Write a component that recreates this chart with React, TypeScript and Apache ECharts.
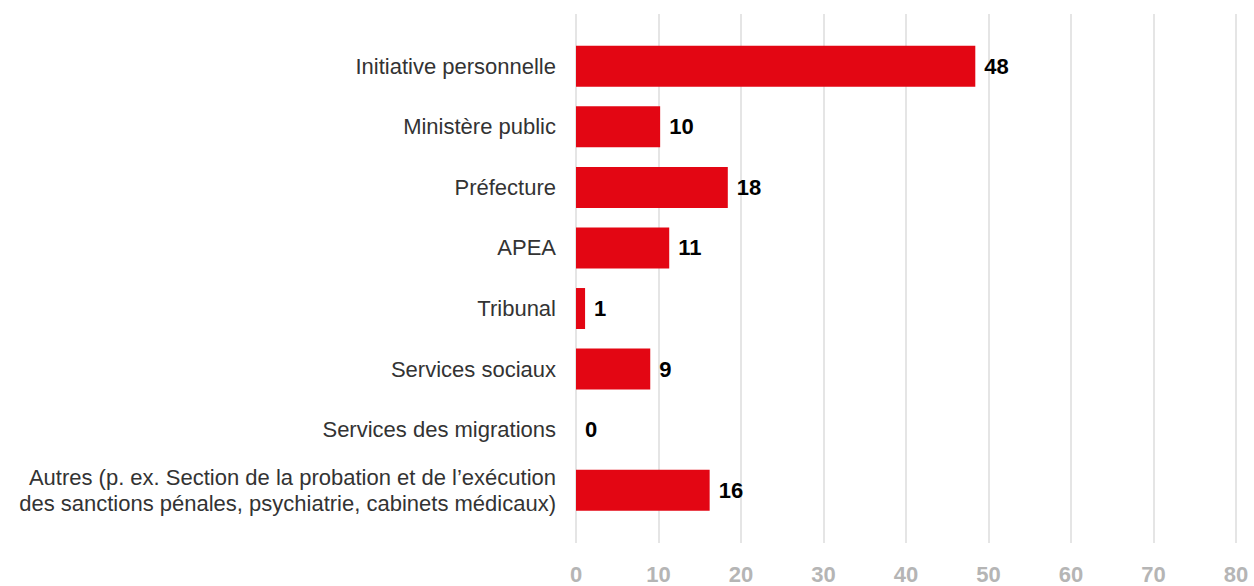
import React, { useEffect, useRef } from "react";
import * as echarts from "echarts";

const categories = [
  "Initiative personnelle",
  "Ministère public",
  "Préfecture",
  "APEA",
  "Tribunal",
  "Services sociaux",
  "Services des migrations",
  "Autres (p. ex. Section de la probation et de l’exécution\ndes sanctions pénales, psychiatrie, cabinets médicaux)",
];
const values = [48.4, 10.2, 18.4, 11.3, 1.1, 9.0, 0, 16.2];
const valueLabels = ["48", "10", "18", "11", "1", "9", "0", "16"];
const xMin = 0;
const xMax = 80;
const xInterval = 10;

const FONT = "'Liberation Sans', Helvetica, Arial, sans-serif";

export default function App() {
  const ref = useRef<HTMLDivElement>(null);
  useEffect(() => {
    document.body.style.margin = "0";
    if (!ref.current) return;
    const chart = echarts.init(ref.current, undefined, { renderer: "svg" });
    chart.setOption({
      animation: false,
      textStyle: { fontFamily: FONT },
      grid: [
        { left: 576, right: 18, top: 14, bottom: 43 },
        { left: 576, right: 18, top: 36, bottom: 65.5 },
      ],
      xAxis: [
        {
          gridIndex: 0,
          type: "value",
          min: xMin,
          max: xMax,
          interval: xInterval,
          axisLine: { show: false },
          axisTick: { show: false },
          splitLine: { show: true, lineStyle: { color: "#dddddd", width: 1.5 } },
          axisLabel: {
            color: "#b5b5b5",
            fontWeight: "bold",
            fontSize: 22,
            margin: 20,
            fontFamily: FONT,
          },
        },
        {
          gridIndex: 1,
          type: "value",
          min: xMin,
          max: xMax,
          interval: xInterval,
          show: false,
          splitLine: { show: false },
        },
      ],
      yAxis: [
        {
          gridIndex: 0,
          type: "category",
          data: categories,
          show: false,
        },
        {
          gridIndex: 1,
          type: "category",
          data: categories,
          inverse: true,
          axisLine: { show: false },
          axisTick: { show: false },
          splitLine: { show: false },
          axisLabel: {
            color: "#333333",
            fontSize: 22,
            lineHeight: 26,
            margin: 20,
            align: "right",
            fontFamily: FONT,
          },
        },
      ],
      series: [
        {
          type: "bar",
          xAxisIndex: 1,
          yAxisIndex: 1,
          data: values,
          barWidth: 41,
          itemStyle: { color: "#e30613" },
          label: {
            show: true,
            position: "right",
            distance: 9,
            color: "#000000",
            fontWeight: "bold",
            fontSize: 22,
            fontFamily: FONT,
            formatter: (p: any) => valueLabels[p.dataIndex],
          },
        },
      ],
    });
    return () => chart.dispose();
  }, []);
  return <div ref={ref} style={{ width: 1254, height: 586 }} />;
}
